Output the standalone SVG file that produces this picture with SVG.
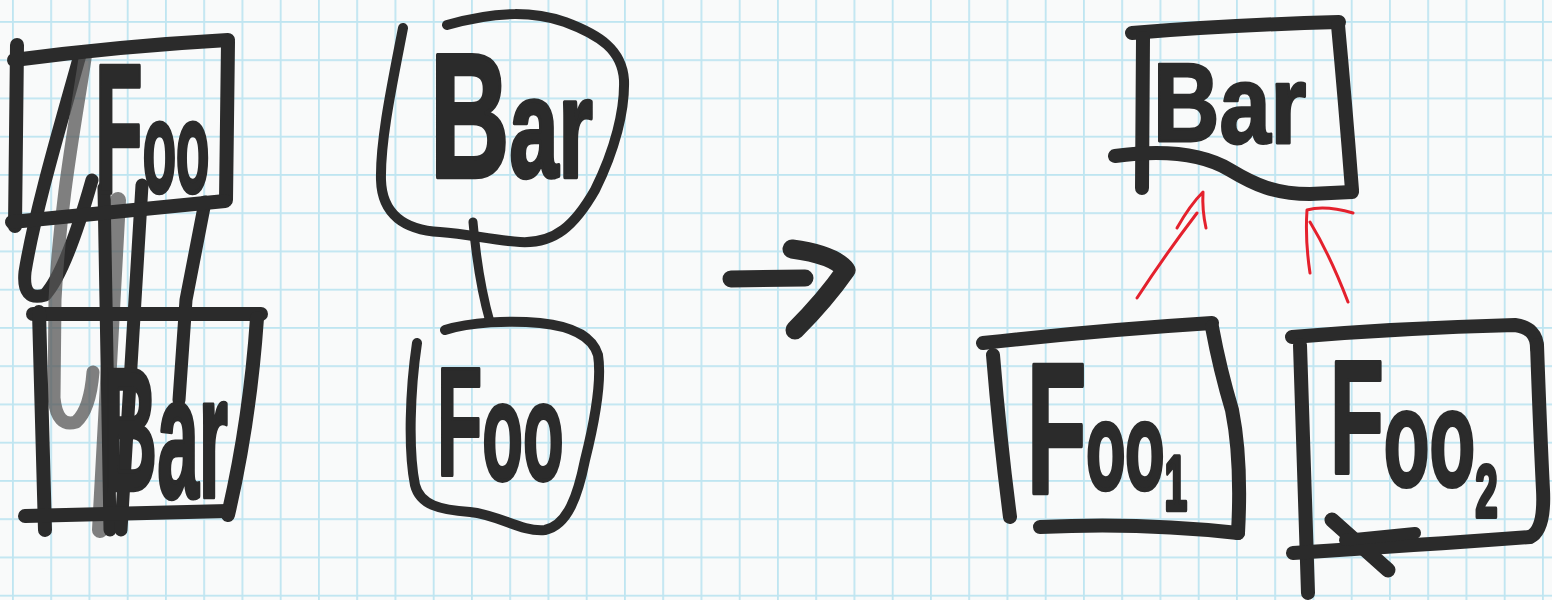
<svg xmlns="http://www.w3.org/2000/svg" width="1552" height="600" viewBox="0 0 1552 600">
<defs>
<pattern id="grid" patternUnits="userSpaceOnUse" x="12" y="21" width="38.25" height="38.25">
<rect x="0" y="0" width="38.25" height="1.8" fill="#bfe5f1"/>
<rect x="0" y="0" width="1.8" height="38.25" fill="#bfe5f1"/>
</pattern>
</defs>
<style>
.ink{fill:none;stroke:#2b2b2b;stroke-linecap:round;stroke-linejoin:round}
.box{stroke-width:14}
.blob{stroke-width:10}
.gray{stroke:#555;opacity:.75}
.red{fill:none;stroke:#e4212d;stroke-width:3;stroke-linecap:round;stroke-linejoin:round}
.hand{font-family:"Liberation Sans",Arial,sans-serif;font-weight:700;font-size:100px;fill:#2b2b2b;stroke:#2b2b2b;stroke-width:2.5;stroke-linejoin:round}
</style>
<rect width="1552" height="600" fill="#f9fafa"/>
<rect width="1552" height="600" fill="url(#grid)"/>

<g id="left-scribble">
<path class="ink gray" stroke-width="16" d="M118,200 L100,530"/>
<path class="ink" stroke-width="13" d="M80,55 C62,120 35,210 25,272 Q22,302 45,295 Q66,272 92,180"/>
<path class="ink gray" stroke-width="13" d="M86,52 C76,120 60,200 55,300 L54,398 Q57,428 76,422 Q90,410 93,372"/>
<path class="ink" stroke-width="13" d="M104,188 L110,530"/>
<path class="ink" stroke-width="13" d="M142,185 L135,300 L121,530"/>
<path class="ink" stroke-width="13" d="M205,202 L186,300 L179,400"/>
</g>

<g id="left-foo">
<path class="ink box" d="M14,60 Q120,46 228,40"/>
<path class="ink box" d="M17,45 L15,226"/>
<path class="ink box" d="M228,42 L226,200"/>
<path class="ink box" d="M12,222 L225,201"/>
<text class="hand" transform="translate(95,192) scale(0.78,1.84)">F<tspan font-size="70">oo</tspan></text>
</g>

<g id="left-bar">
<path class="ink box" d="M33,314 L261,314"/>
<path class="ink box" d="M39,312 L45,530"/>
<path class="ink box" d="M257,318 Q250,420 228,515"/>
<path class="ink box" d="M25,516 L228,511"/>
<text class="hand" transform="translate(103,490) scale(0.75,1.75)">B<tspan dy="4">ar</tspan></text>
</g>

<g id="mid-bar">
<path class="ink blob" d="M403,28 C393,80 380,140 381,180 C382,215 405,230 440,232 C470,234 490,240 520,242 C555,244 575,225 595,190 C615,150 625,110 624,80 C622,50 600,35 565,22 C535,12 500,10 447,25"/>
<text class="hand" transform="translate(430,177) scale(1.1,1.77)">B<tspan font-size="80">ar</tspan></text>
</g>

<g id="mid-foo">
<path class="ink blob" d="M417,343 C410,390 408,450 415,485 C420,505 440,510 470,512 C500,515 520,532 545,530 C568,525 578,495 585,460 C595,420 602,380 598,355 C592,335 570,326 540,323 C510,320 470,322 445,330"/>
<text class="hand" transform="translate(437,475) scale(0.74,1.54)">F<tspan font-size="90" dy="3">oo</tspan></text>
</g>

<g id="transform-arrow">
<path class="ink" stroke-width="17" d="M731,279 L805,278"/>
<path class="ink" stroke-width="19" d="M792,249 Q835,255 846,270 Q825,300 795,330"/>
</g>

<g id="right-bar">
<path class="ink box" d="M1132,33 Q1230,25 1339,22"/>
<path class="ink box" d="M1143,38 L1142,188"/>
<path class="ink box" d="M1338,25 Q1345,100 1352,190"/>
<path class="ink box" d="M1115,156 C1160,150 1200,152 1230,170 C1255,185 1275,194 1310,194 L1352,192"/>
<text class="hand" transform="translate(1153,141) scale(0.92,1.12)">B<tspan dy="2">ar</tspan></text>
</g>

<g id="right-foo1">
<path class="ink box" d="M983,343 Q1100,330 1212,323"/>
<path class="ink box" d="M993,355 Q1000,440 1010,517"/>
<path class="ink box" d="M1212,327 Q1220,370 1232,410 Q1242,460 1238,533"/>
<path class="ink box" d="M1040,527 Q1140,522 1238,533"/>
<text class="hand" transform="translate(1027,493) scale(0.97,1.86)">F<tspan font-size="66" dy="-2">oo</tspan><tspan font-size="42" dy="11">1</tspan></text>
</g>

<g id="right-foo2">
<path class="ink box" d="M1292,337 Q1400,328 1515,325 Q1537,328 1537,348"/>
<path class="ink box" d="M1300,345 L1308,593"/>
<path class="ink box" d="M1537,345 Q1540,430 1543,490 Q1545,530 1530,537"/>
<path class="ink box" d="M1293,553 Q1420,545 1530,537"/>
<path class="ink" stroke-width="15" d="M1332,520 Q1360,545 1388,570"/>
<path class="ink" stroke-width="12" d="M1345,540 L1415,533"/>
<text class="hand" transform="translate(1330,473) scale(0.88,1.62)">F<tspan font-size="85" dy="8">oo</tspan><tspan font-size="46" dy="19">2</tspan></text>
</g>

<g id="connectors">
<path class="ink" stroke-width="9" d="M473,222 Q478,280 490,322"/>
<path class="red" d="M1137,298 Q1165,255 1197,213"/>
<path class="red" d="M1177,228 Q1190,205 1203,192 Q1202,210 1206,228"/>
<path class="red" d="M1348,302 Q1330,255 1310,222"/>
<path class="red" d="M1353,213 Q1325,205 1307,210 Q1305,240 1310,273"/>
</g>
</svg>
